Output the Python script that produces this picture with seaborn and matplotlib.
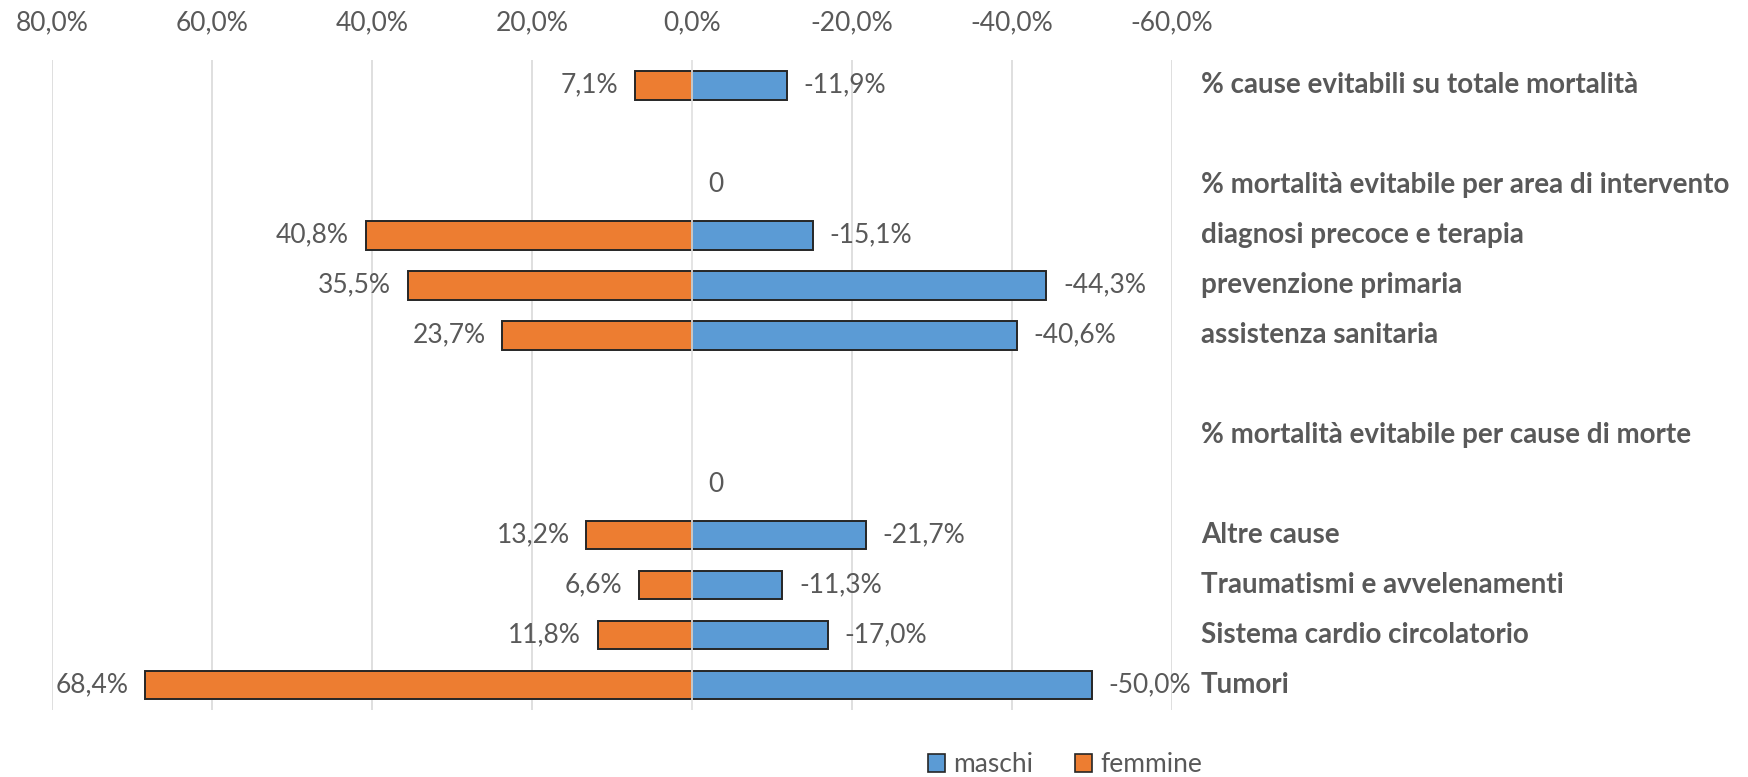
import matplotlib
matplotlib.use("Agg")
import matplotlib.pyplot as plt
from matplotlib.patches import Patch
import matplotlib.transforms as mtransforms
import seaborn as sns
import pandas as pd
import numpy as np

# ---- data ----
categories = [
    "% cause evitabili su totale mortalità",
    "",
    "% mortalità evitabile per area di intervento",
    "diagnosi precoce e terapia",
    "prevenzione primaria",
    "assistenza sanitaria",
    "",
    "% mortalità evitabile per cause di morte",
    "",
    "Altre cause",
    "Traumatismi e avvelenamenti",
    "Sistema cardio circolatorio",
    "Tumori",
]
maschi = [-11.9, None, 0, -15.1, -44.3, -40.6, None, None, 0, -21.7, -11.3, -17.0, -50.0]
femmine = [7.1, None, None, 40.8, 35.5, 23.7, None, None, None, 13.2, 6.6, 11.8, 68.4]
x_ticks = [80, 60, 40, 20, 0, -20, -40, -60]
series_names = ["maschi", "femmine"]
colors = {"maschi": "#5B9BD5", "femmine": "#ED7D31"}

TXT = "#595959"
FONT = "Lato"

sns.set_theme(style="white")
plt.rcParams["font.family"] = [FONT, "DejaVu Sans"]

rows = []
for i in range(len(categories)):
    for name, vals in (("maschi", maschi), ("femmine", femmine)):
        v = vals[i]
        if v is not None and v != 0:
            rows.append({"row": i, "value": v, "sesso": name})
df = pd.DataFrame(rows)

W, H = 1749, 777
fig = plt.figure(figsize=(W / 100, H / 100), dpi=100)
ax = fig.add_axes([52 / W, 1 - 710 / H, 1120 / W, 650 / H])

sns.barplot(data=df, x="value", y="row", hue="sesso", order=list(range(len(categories))),
            hue_order=series_names, palette=colors, dodge=False, orient="h",
            width=0.58, edgecolor="#262626", linewidth=1.4, ax=ax, legend=False,
            saturation=1, zorder=2)

ax.set_xlim(80, -60)
ax.set_ylim(len(categories) - 0.5, -0.5)
ax.set_xticks(x_ticks)
ax.set_xticklabels([f"{t:.1f}".replace(".", ",") + "%" for t in x_ticks],
                   fontsize=19, color=TXT)
ax.xaxis.tick_top()
ax.tick_params(axis="x", length=0, pad=18)
ax.set_yticks([])
ax.set_xlabel("")
ax.set_ylabel("")
for s in ax.spines.values():
    s.set_visible(False)
ax.grid(axis="x", color="#D9D9D9", linewidth=1.2)
ax.set_axisbelow(True)
ax.axvline(0, color="#E6E6E6", linewidth=1.2, zorder=3)

# value labels
def fmt(v):
    if v == 0:
        return "0"
    return f"{v:.1f}".replace(".", ",") + "%"

for i in range(len(categories)):
    m = maschi[i]
    f = femmine[i]
    if m is not None:
        ax.annotate(fmt(m), xy=(m, i), xytext=(12, 0), textcoords="offset points",
                    ha="left", va="center", fontsize=19, color=TXT)
    if f is not None:
        ax.annotate(fmt(f), xy=(f, i), xytext=(-12, 0), textcoords="offset points",
                    ha="right", va="center", fontsize=19, color=TXT)

# category labels on the right
trans = mtransforms.blended_transform_factory(ax.transAxes, ax.transData)
for i, c in enumerate(categories):
    if c:
        ax.text((1201 - 52) / 1120, i, c, transform=trans, ha="left", va="center",
                fontsize=20, fontweight="bold", color=TXT)

handles = [Patch(facecolor=colors[n], edgecolor="#262626", linewidth=1.2) for n in series_names]
fig.legend(handles, series_names, loc="center", bbox_to_anchor=(0.609, 0.016), ncol=2,
           frameon=False, fontsize=19, labelcolor=TXT, handlelength=0.65,
           handleheight=0.65, handletextpad=0.3, columnspacing=1.6)

fig.savefig("out.png", dpi=100)
